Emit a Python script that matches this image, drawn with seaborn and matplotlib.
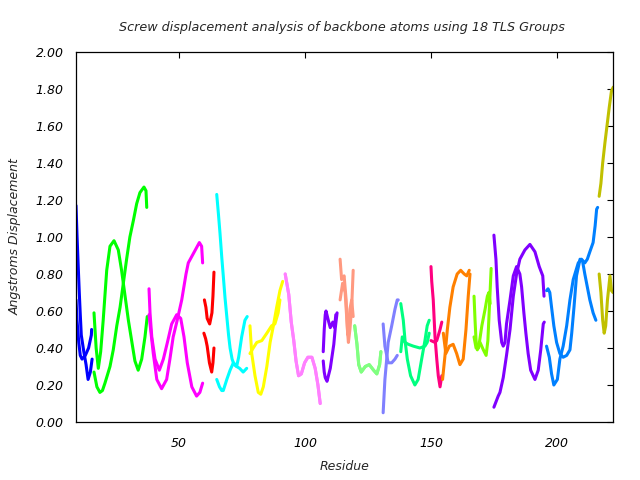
import matplotlib
matplotlib.use("Agg")
import matplotlib.pyplot as plt
import seaborn as sns
import pandas as pd

# ---------------- data ----------------
title = "Screw displacement analysis of backbone atoms using 18 TLS Groups"
x_label = "Residue"
y_label = "Angstroms Displacement"
x_ticks = [50, 100, 150, 200]
y_ticks = [0.0, 0.2, 0.4, 0.6, 0.8, 1.0, 1.2, 1.4, 1.6, 1.8, 2.0]

group_colors = ["#0000ff", "#00ff00", "#ff00ff", "#ff0000", "#00ffff", "#ffff00",
                "#ff80ff", "#8000ff", "#ff9980", "#80ff80", "#8080ff", "#00ff80",
                "#ff0080", "#ff8000", "#80ff00", "#8000ff", "#0080ff", "#c0c000"]

# group 1 (blue)
g01_xa = [9.0, 9.4, 9.8, 10.3, 10.7, 11.1, 12.1, 13.0, 13.8, 14.7, 15.4]
g01_ya = [1.17, 1.01, 0.87, 0.70, 0.58, 0.47, 0.38, 0.31, 0.23, 0.27, 0.34]
g01_xb = [9.0, 9.4, 10.1, 10.7, 11.4, 12.7, 14.0, 15.1, 15.2]
g01_yb = [0.66, 0.55, 0.43, 0.36, 0.34, 0.36, 0.40, 0.47, 0.50]
# group 2 (green)
g02_xa = [16.15, 17.0, 17.86, 18.8, 19.8, 21.2, 22.5, 24.1, 25.8, 27.1, 28.5, 29.8,
          31.1, 32.4, 33.7, 35.1, 36.4, 37.3]
g02_ya = [0.59, 0.40, 0.29, 0.38, 0.55, 0.82, 0.95, 0.98, 0.93, 0.82, 0.68, 0.55,
          0.44, 0.33, 0.28, 0.34, 0.46, 0.57]
g02_xb = [16.15, 17.3, 18.5, 19.5, 20.5, 22.5, 23.8, 25.2, 26.5, 27.8, 29.1, 30.4,
          31.8, 33.1, 34.4, 36.0, 36.8, 37.1]
g02_yb = [0.27, 0.19, 0.16, 0.17, 0.21, 0.30, 0.39, 0.52, 0.62, 0.75, 0.88, 1.00,
          1.09, 1.18, 1.24, 1.27, 1.25, 1.16]
# group 3 (magenta)
g03_xa = [38.0, 38.4, 39.1, 40.4, 42.1, 43.7, 45.3, 47.0, 49.0, 50.6, 51.9, 53.2,
          55.0, 56.9, 58.2, 59.3]
g03_ya = [0.72, 0.59, 0.46, 0.34, 0.28, 0.34, 0.43, 0.53, 0.58, 0.56, 0.46, 0.32,
          0.19, 0.14, 0.16, 0.21]
g03_xb = [38.0, 39.7, 41.1, 43.0, 45.0, 46.3, 47.6, 49.2, 51.0, 52.7, 53.6, 55.6,
          58.0, 58.9, 59.3]
g03_yb = [0.58, 0.37, 0.23, 0.18, 0.23, 0.34, 0.46, 0.55, 0.66, 0.80, 0.86, 0.91,
          0.97, 0.95, 0.86]
# group 4 (red)
g04_xa = [60.0, 60.6, 61.1, 62.1, 63.0, 63.4, 63.8]
g04_ya = [0.66, 0.62, 0.56, 0.53, 0.59, 0.68, 0.81]
g04_xb = [59.8, 60.5, 61.1, 62.0, 62.9, 63.4, 63.8]
g04_yb = [0.48, 0.45, 0.41, 0.32, 0.27, 0.32, 0.40]
# group 5 (cyan)
g05_xa = [64.9, 65.6, 66.2, 66.9, 67.5, 68.2, 68.9, 69.6, 70.2, 71.0, 71.8, 72.8,
          74.0, 75.4, 76.8]
g05_ya = [1.23, 1.12, 1.02, 0.89, 0.79, 0.67, 0.57, 0.47, 0.40, 0.34, 0.31, 0.30,
          0.29, 0.27, 0.29]
g05_xb = [64.9, 66.0, 66.9, 67.5, 68.9, 70.2, 71.5, 72.3, 72.8, 73.6, 74.8, 76.1, 77.0]
g05_yb = [0.23, 0.19, 0.17, 0.17, 0.23, 0.28, 0.32, 0.31, 0.30, 0.35, 0.46, 0.55, 0.57]
# group 6 (yellow)
g06_xa = [78.1, 78.8, 80.1, 81.4, 82.4, 83.4, 84.8, 86.1, 87.4, 88.7, 90.0, 91.1]
g06_ya = [0.52, 0.37, 0.25, 0.16, 0.15, 0.19, 0.30, 0.43, 0.52, 0.62, 0.71, 0.76]
g06_xb = [78.1, 79.4, 80.8, 82.8, 84.8, 86.7, 88.0, 89.3, 90.0]
g06_yb = [0.37, 0.40, 0.43, 0.44, 0.48, 0.52, 0.53, 0.59, 0.66]
# group 7 (pink) - both curves coincide
g07_xa = [92.1, 93.5, 94.5, 95.5, 96.4, 97.4, 98.5, 99.8, 101.1, 102.7, 104.0, 105.1, 106.0]
g07_ya = [0.80, 0.69, 0.54, 0.44, 0.33, 0.25, 0.26, 0.32, 0.35, 0.35, 0.29, 0.20, 0.10]
g07_xb = [92.1, 93.5, 94.5, 95.5, 96.4, 97.4, 98.5, 99.8, 101.1, 102.7, 104.0, 105.1, 106.0]
g07_yb = [0.80, 0.69, 0.54, 0.44, 0.33, 0.25, 0.26, 0.32, 0.35, 0.35, 0.29, 0.20, 0.10]
# group 8 (purple)
g08_xa = [107.2, 107.6, 108.0, 108.7, 110.0, 111.4, 112.0, 112.7]
g08_ya = [0.33, 0.27, 0.24, 0.22, 0.29, 0.42, 0.51, 0.59]
g08_xb = [107.2, 107.6, 108.0, 108.3, 109.4, 110.0, 111.0, 111.7, 112.2]
g08_yb = [0.38, 0.50, 0.58, 0.60, 0.54, 0.51, 0.54, 0.51, 0.58]
# group 9 (salmon)
g09_xa = [113.9, 114.5, 115.5, 116.3, 116.8, 117.2, 117.8, 118.5, 119.1]
g09_ya = [0.88, 0.77, 0.79, 0.66, 0.50, 0.43, 0.50, 0.62, 0.82]
g09_xb = [113.9, 114.9, 115.9, 116.5, 117.0, 117.8, 118.5, 119.1]
g09_yb = [0.66, 0.75, 0.70, 0.57, 0.47, 0.61, 0.66, 0.57]
# group 10 (light green) - both curves coincide
g10_xa = [119.7, 120.6, 121.3, 122.3, 123.9, 125.5, 127.2, 128.5, 129.6, 130.1]
g10_ya = [0.52, 0.42, 0.31, 0.27, 0.30, 0.31, 0.28, 0.26, 0.31, 0.38]
g10_xb = [119.7, 120.6, 121.3, 122.3, 123.9, 125.5, 127.2, 128.5, 129.6, 130.1]
g10_yb = [0.52, 0.42, 0.31, 0.27, 0.30, 0.31, 0.28, 0.26, 0.31, 0.38]
# group 11 (slate blue)
g11_xa = [131.0, 131.7, 133.0, 134.4, 135.7, 136.6, 137.0]
g11_ya = [0.05, 0.23, 0.43, 0.52, 0.61, 0.66, 0.66]
g11_xb = [131.0, 131.7, 133.0, 134.4, 135.7, 136.6]
g11_yb = [0.53, 0.41, 0.32, 0.32, 0.34, 0.36]
# group 12 (spring green)
g12_xa = [138.0, 139.0, 139.7, 140.6, 141.9, 143.6, 144.9, 146.3, 147.6, 148.5, 149.3]
g12_ya = [0.64, 0.55, 0.44, 0.34, 0.25, 0.20, 0.23, 0.34, 0.44, 0.52, 0.55]
g12_xb = [138.0, 138.6, 139.7, 141.0, 143.0, 145.6, 147.6, 148.5, 149.3]
g12_yb = [0.38, 0.46, 0.43, 0.42, 0.41, 0.40, 0.41, 0.43, 0.48]
# group 13 (deep pink)
g13_xa = [150.0, 150.3, 150.9, 151.6, 152.3, 152.9, 153.6, 154.3]
g13_ya = [0.84, 0.76, 0.66, 0.46, 0.34, 0.25, 0.19, 0.25]
g13_xb = [150.0, 151.6, 152.3, 153.6, 154.3]
g13_yb = [0.44, 0.43, 0.44, 0.50, 0.54]
# group 14 (orange)
g14_xa = [154.6, 155.5, 156.5, 157.5, 158.8, 160.4, 161.8, 163.2, 164.2, 165.2]
g14_ya = [0.23, 0.35, 0.50, 0.62, 0.73, 0.80, 0.82, 0.80, 0.79, 0.82]
g14_xb = [154.9, 155.9, 157.3, 158.8, 160.2, 161.5, 162.8, 163.9, 164.8, 165.5]
g14_yb = [0.48, 0.37, 0.41, 0.42, 0.37, 0.31, 0.34, 0.50, 0.68, 0.80]
# group 15 (chartreuse)
g15_xa = [167.1, 167.5, 167.9, 168.4, 169.5, 170.8, 171.9, 172.6, 173.2, 173.9]
g15_ya = [0.68, 0.55, 0.44, 0.39, 0.43, 0.39, 0.36, 0.44, 0.62, 0.83]
g15_xb = [167.1, 167.9, 168.9, 170.2, 171.5, 172.4, 173.0, 173.5]
g15_yb = [0.46, 0.40, 0.40, 0.52, 0.61, 0.68, 0.70, 0.64]
# group 16 (purple)
g16_xa = [175.0, 175.8, 176.3, 177.1, 178.1, 178.7, 179.4, 180.0, 181.4, 182.7, 184.0,
          185.3, 186.0, 186.9, 187.7, 188.6, 189.6, 191.3, 192.6, 193.6, 194.6, 195.0]
g16_ya = [1.01, 0.88, 0.73, 0.55, 0.43, 0.41, 0.43, 0.53, 0.66, 0.79, 0.84,
          0.80, 0.73, 0.59, 0.48, 0.37, 0.28, 0.23, 0.28, 0.39, 0.53, 0.54]
g16_xb = [175.0, 176.7, 177.4, 178.7, 180.0, 181.4, 182.7, 184.0, 185.3, 187.3, 189.3,
          191.3, 193.0, 194.4, 194.9]
g16_yb = [0.08, 0.14, 0.16, 0.24, 0.36, 0.50, 0.68, 0.80, 0.88, 0.93, 0.96,
          0.92, 0.84, 0.79, 0.68]
# group 17 (dodger blue)
g17_xa = [195.9, 196.5, 197.2, 197.9, 198.8, 199.9, 201.2, 202.5, 203.9, 205.2, 205.9,
          206.8, 207.8, 209.2, 210.2, 211.1, 212.1, 213.1, 214.4, 215.5]
g17_ya = [0.71, 0.72, 0.70, 0.62, 0.52, 0.43, 0.37, 0.35, 0.36, 0.39, 0.48,
          0.62, 0.79, 0.88, 0.87, 0.80, 0.73, 0.66, 0.59, 0.55]
g17_xb = [195.9, 197.0, 197.9, 198.8, 200.2, 201.2, 202.5, 203.9, 205.2, 206.5, 208.5,
          209.8, 211.1, 212.1, 213.1, 214.4, 215.2, 215.8, 216.2]
g17_yb = [0.41, 0.35, 0.26, 0.20, 0.23, 0.34, 0.41, 0.52, 0.66, 0.77, 0.86,
          0.88, 0.86, 0.88, 0.92, 0.97, 1.06, 1.15, 1.16]
# group 18 (olive)
g18_xa = [216.8, 217.5, 218.2, 219.1, 220.0, 220.8, 221.7, 222.4]
g18_ya = [1.22, 1.29, 1.40, 1.51, 1.61, 1.70, 1.79, 1.81]
g18_xb = [216.8, 217.5, 218.2, 218.8, 219.4, 220.1, 221.1, 221.7, 222.3]
g18_yb = [0.80, 0.70, 0.55, 0.48, 0.52, 0.66, 0.79, 0.71, 0.70]

groups = [
    (g01_xa, g01_ya, g01_xb, g01_yb), (g02_xa, g02_ya, g02_xb, g02_yb),
    (g03_xa, g03_ya, g03_xb, g03_yb), (g04_xa, g04_ya, g04_xb, g04_yb),
    (g05_xa, g05_ya, g05_xb, g05_yb), (g06_xa, g06_ya, g06_xb, g06_yb),
    (g07_xa, g07_ya, g07_xb, g07_yb), (g08_xa, g08_ya, g08_xb, g08_yb),
    (g09_xa, g09_ya, g09_xb, g09_yb), (g10_xa, g10_ya, g10_xb, g10_yb),
    (g11_xa, g11_ya, g11_xb, g11_yb), (g12_xa, g12_ya, g12_xb, g12_yb),
    (g13_xa, g13_ya, g13_xb, g13_yb), (g14_xa, g14_ya, g14_xb, g14_yb),
    (g15_xa, g15_ya, g15_xb, g15_yb), (g16_xa, g16_ya, g16_xb, g16_yb),
    (g17_xa, g17_ya, g17_xb, g17_yb), (g18_xa, g18_ya, g18_xb, g18_yb),
]

# ---------------- build long table ----------------
rows = []
for gi, (xa, ya, xb, yb) in enumerate(groups):
    for cname, xs, ys in (("a", xa, ya), ("b", xb, yb)):
        for order, (xv, yv) in enumerate(zip(xs, ys)):
            rows.append({"curve": f"g{gi+1:02d}{cname}", "group": gi,
                         "order": order, "residue": xv, "disp": yv})
df = pd.DataFrame(rows)

# ---------------- plot ----------------
sns.set_style("white")
plt.rcParams["font.family"] = ["DejaVu Sans"]
plt.rcParams["font.style"] = "italic"

fig = plt.figure(figsize=(6.4, 4.8), dpi=100)
ax = fig.add_axes([76 / 640, 1 - 422 / 480, (613 - 76) / 640, (422 - 52) / 480])

for cid, sub in df.groupby("curve", sort=True):
    gi = int(sub["group"].iloc[0])
    sns.lineplot(data=sub.sort_values("order"), x="residue", y="disp",
                 sort=False, estimator=None, color=group_colors[gi],
                 linewidth=2.2, legend=False, ax=ax)

ax.set_xlim(9, 222.3)
ax.set_ylim(0, 2.0)
ax.set_xticks(x_ticks)
ax.set_xticklabels([str(t) for t in x_ticks])
ax.set_yticks(y_ticks)
ax.set_yticklabels([f"{t:.2f}" for t in y_ticks])

for sp in ax.spines.values():
    sp.set_visible(True)
    sp.set_color("black")
    sp.set_linewidth(0.9)

ax.tick_params(axis="both", direction="in", length=4.5, width=0.8,
               top=True, right=True, labelsize=9, colors="black")
ax.tick_params(axis="x", pad=11)
ax.tick_params(axis="y", pad=9)

ax.set_xlabel(x_label, fontsize=9, style="italic", labelpad=7)
ax.set_ylabel(y_label, fontsize=9, style="italic", labelpad=10)
fig.text(0.535, 1 - 27 / 480, title, ha="center", va="center",
         fontsize=9.2, style="italic")

fig.savefig("out.png", dpi=100)
